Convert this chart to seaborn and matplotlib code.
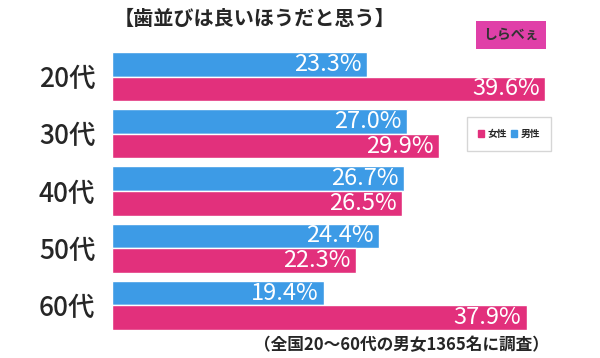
import pandas as pd
import matplotlib.pyplot as plt
import seaborn as sns
from matplotlib.patches import Patch

ages = ["20代", "30代", "40代", "50代", "60代"]
male = [23.3, 27.0, 26.7, 24.4, 19.4]
female = [39.6, 29.9, 26.5, 22.3, 37.9]

blue = "#3D9BE6"
pink = "#E2307C"

df = pd.DataFrame({
    "age": ages * 2,
    "value": male + female,
    "sex": ["男性"] * 5 + ["女性"] * 5,
})

sns.set_style("white")
plt.rcParams['font.family'] = ['Noto Sans CJK JP', 'DejaVu Sans']

fig = plt.figure(figsize=(6, 3.58), dpi=100)
ax = fig.add_axes([112 / 600, 1 - 330 / 358, 1 - 112 / 600, (330 - 52) / 358])

sns.barplot(data=df, y="age", x="value", hue="sex", hue_order=["男性", "女性"],
            palette=[blue, pink], orient="h", width=0.86, saturation=1,
            ax=ax, legend=False)

ax.set_xlim(0, 44.6)
ax.set_ylim(4.43, -0.43)
ax.set_xlabel("")
ax.set_ylabel("")
ax.set_xticks([])
ax.tick_params(axis="y", length=0, pad=12, labelsize=19)
for lbl in ax.get_yticklabels():
    lbl.set_fontweight("medium")
for s in ax.spines.values():
    s.set_visible(False)

# value labels inside bar ends
for cont in ax.containers:
    for bar in cont:
        w = bar.get_width()
        ax.text(w - 0.5, bar.get_y() + bar.get_height() / 2, f"{w:.1f}%",
                ha="right", va="center", color="white", fontsize=17)

# title
fig.text(255 / 600, 1 - 18 / 358, "【歯並びは良いほうだと思う】",
         ha="center", va="center", fontsize=14.5, fontweight="bold")

# logo
fig.text(511 / 600, 1 - 35 / 358, "しらべぇ", ha="center", va="center",
         fontsize=10, fontweight="bold", color="#333333",
         bbox=dict(boxstyle="square,pad=0.5", fc="#E040A8", ec="none"))

# legend
handles = [Patch(color=pink, label="女性"), Patch(color=blue, label="男性")]
ax.legend(handles=handles, loc="center", bbox_to_anchor=((509 - 112) / 488, (330 - 134) / 278),
          ncol=2, handlelength=0.6, handleheight=0.6, handletextpad=0.3,
          columnspacing=0.5, frameon=True, fancybox=False, edgecolor="#cccccc",
          borderpad=1.2, prop={"weight": "bold", "size": 7})

# footnote
fig.text(401 / 600, 1 - 345 / 358, "（全国20～60代の男女1365名に調査）",
         ha="center", va="center", fontsize=12, fontweight="bold")

plt.savefig("out.png", dpi=100)
